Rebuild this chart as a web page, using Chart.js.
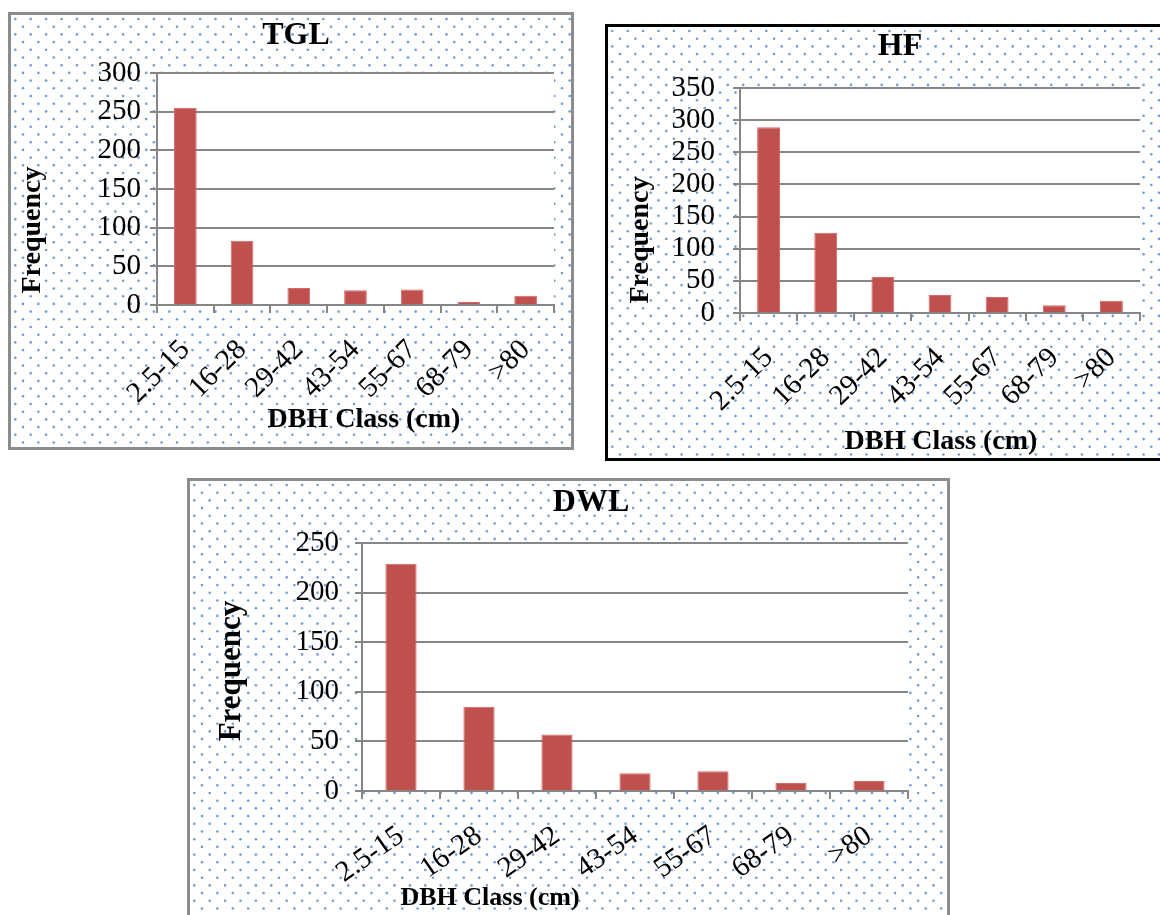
<!DOCTYPE html>
<html>
<head>
<meta charset="utf-8">
<script src="https://cdn.jsdelivr.net/npm/chart.js@4"></script>
<style>
  body { margin: 0; background: #fff; width: 1160px; height: 915px; overflow: hidden; position: relative; }
  .caja { position: absolute; box-sizing: border-box; }
  .caja canvas { display: block; }
  #cajaTGL { left: 8px; top: 12px; width: 566px; height: 438px; border: 3px solid #8c8c8c; }
  #cajaHF { left: 605px; top: 24px; width: 570px; height: 437px; border: 3px solid #000; }
  #cajaDWL { left: 187px; top: 478px; width: 763px; height: 450px; border: 3px solid #8c8c8c; }
</style>
</head>
<body>
<div class="caja" id="cajaTGL"><canvas id="tgl" width="560" height="432"></canvas></div>
<div class="caja" id="cajaHF"><canvas id="hf" width="564" height="431"></canvas></div>
<div class="caja" id="cajaDWL"><canvas id="dwl" width="757" height="444"></canvas></div>

<script>
// datos
const clases = ['2.5-15', '16-28', '29-42', '43-54', '55-67', '68-79', '>80'];
const frecTGL = [255, 83, 22, 19, 20, 4, 12];
const frecHF = [289, 125, 56, 28, 25, 12, 19];
const frecDWL = [229, 85, 57, 18, 20, 8, 10];
const maxTGL = 300, maxHF = 350, maxDWL = 250;
const pasoY = 50;

const gris = '#868686';
const rojo = '#c0504d';
Chart.defaults.font.family = '"Liberation Serif", "Times New Roman", serif';
Chart.defaults.color = '#000';

//fondo punteado y area de trazado blanca
const fondoPuntos = {
  id: 'fondoPuntos',
  beforeDraw(chart) {
    const ctx = chart.ctx, a = chart.chartArea;
    ctx.save();
    ctx.fillStyle = '#fff';
    ctx.fillRect(0, 0, chart.width, chart.height);
    ctx.fillStyle = '#729bd6';
    let fila = 0;
    for (let y = 4; y < chart.height; y += 7.7, fila++) {
      for (let x = (fila % 2 ? 12 : 4.3); x < chart.width; x += 15.4) {
        ctx.beginPath();
        ctx.arc(x, y, 1.3, 0, Math.PI * 2);
        ctx.fill();
      }
    }
    ctx.fillStyle = '#fff';
    ctx.fillRect(a.left, a.top, a.right - a.left, a.bottom - a.top);
    ctx.restore();
  }
};

//titulos del grafico y de los ejes
const textos = {
  id: 'textos',
  afterDraw(chart, args, opts) {
    const ctx = chart.ctx;
    ctx.save();
    ctx.fillStyle = '#000';
    ctx.textAlign = 'center';
    ctx.textBaseline = 'middle';
    opts.lista.forEach(t => {
      ctx.save();
      ctx.font = 'bold ' + t.size + 'px "Liberation Serif"';
      ctx.translate(t.x, t.y);
      if (t.rot) ctx.rotate(t.rot);
      ctx.fillText(t.text, 0, 0);
      ctx.restore();
    });
    ctx.restore();
  }
};

function crearGrafico(id, valores, maxY, c) {
  const ctx = document.getElementById(id).getContext('2d');
  new Chart(ctx, {
    type: 'bar',
    data: {
      labels: clases,
      datasets: [{
        data: valores,
        backgroundColor: rojo,
        borderColor: '#d46b68',
        borderWidth: 1,
        barPercentage: 0.4,
        categoryPercentage: 1
      }]
    },
    options: {
      responsive: false,
      animation: false,
      layout: { padding: { top: c.arriba, right: c.derecha, left: 0, bottom: 0 } },
      plugins: {
        legend: { display: false },
        tooltip: { enabled: false },
        textos: {
          lista: [
            { text: c.titulo, size: 32, x: c.tituloX, y: c.tituloY },
            { text: 'Frequency', size: c.freqSize, x: c.freqX, y: c.freqY, rot: -Math.PI / 2 },
            { text: 'DBH Class (cm)', size: c.dbhSize, x: c.dbhX, y: c.dbhY }
          ]
        }
      },
      scales: {
        y: {
          min: 0,
          max: maxY,
          afterFit: s => { s.width = c.anchoY; },
          ticks: { stepSize: pasoY, autoSkip: false, font: { size: 29 }, padding: c.padY, color: '#000' },
          grid: { color: gris, lineWidth: 2, tickLength: 7 },
          border: { color: gris, width: 2 }
        },
        x: {
          afterFit: s => { s.height = c.altoX; },
          ticks: { font: { size: 29 }, autoSkip: false, minRotation: c.rot, maxRotation: c.rot, padding: c.padX, color: '#000' },
          grid: { drawOnChartArea: false, color: gris, lineWidth: 2, tickLength: 8 },
          border: { color: gris, width: 2 }
        }
      }
    },
    plugins: [fondoPuntos, textos]
  });
}

crearGrafico('tgl', frecTGL, maxTGL, {
  titulo: 'TGL', tituloX: 285, tituloY: 21,
  freqSize: 28, freqX: 22, freqY: 215,
  dbhSize: 28, dbhX: 353, dbhY: 405,
  arriba: 58, derecha: 11, anchoY: 146, altoX: 142,
  padY: 9, padX: 20, rot: 45
});

crearGrafico('hf', frecHF, maxHF, {
  titulo: 'HF', tituloX: 292, tituloY: 20,
  freqSize: 28, freqX: 33, freqY: 213,
  dbhSize: 28, dbhX: 333, dbhY: 415,
  arriba: 61, derecha: 32, anchoY: 132, altoX: 145,
  padY: 18, padX: 20, rot: 45
});

crearGrafico('dwl', frecDWL, maxDWL, {
  titulo: 'DWL', tituloX: 401, tituloY: 22,
  freqSize: 31, freqX: 42, freqY: 190,
  dbhSize: 26, dbhX: 300, dbhY: 417,
  arriba: 62, derecha: 39, anchoY: 172, altoX: 134,
  padY: 16, padX: 20, rot: 35
});
</script>
</body>
</html>
